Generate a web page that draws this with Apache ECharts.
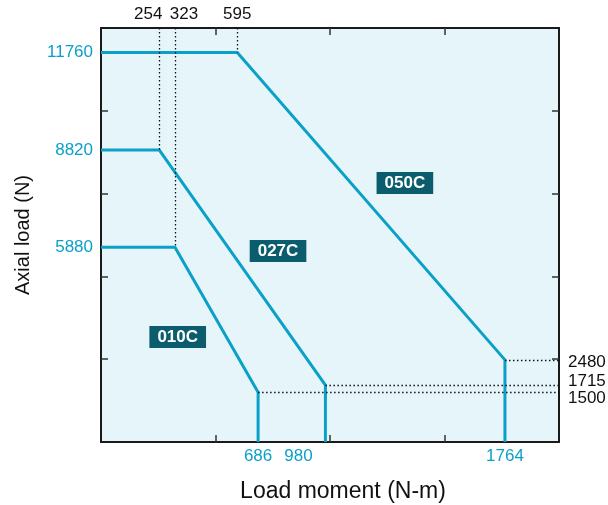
<!DOCTYPE html>
<html>
<head>
<meta charset="utf-8">
<script src="https://cdn.jsdelivr.net/npm/echarts@6/dist/echarts.min.js"></script>
<style>html,body{margin:0;padding:0;background:#fff}#c{width:608px;height:505px}</style>
</head>
<body>
<div id="c"></div>
<script>
// ---- data ----
const xMax = 2000, yMax = 12500;
const tickX = [500, 1000, 1500];
const tickY = [2500, 5000, 7500, 10000];
const bottomLabels = [686, 980, 1764];
const topLabels = [254, 323, 595];
const leftLabels = [5880, 8820, 11760];
const rightLabels = [1500, 1715, 2480];

const curve050 = [[0, 11760], [595, 11760], [1764, 2480], [1764, 0]];
const curve027 = [[0, 8820], [254, 8820], [980, 1715], [980, 0]];
const curve010 = [[0, 5880], [323, 5880], [686, 1500], [686, 0]];

const boxNames = ['050C', '027C', '010C'];
const boxPos = [[1327, 7820], [773, 5767], [335, 3170]];

// ---- style ----
const BLUE = '#0aa0c8';
const DARK = '#0b5d6e';
const FONT = '"Liberation Sans", Arial, Helvetica, sans-serif';
const FS = 17;
const axisLine = { show: true, onZero: false, lineStyle: { color: '#1a1a1a', width: 2 } };
const tickStyle = { lineStyle: { color: '#333', width: 1.5 } };

const chart = echarts.init(document.getElementById('c'));

function dotted(a, b) { return [{ coord: a }, { coord: b }]; }
function txt(color, extra) { return Object.assign({ color: color, fontSize: FS, fontFamily: FONT }, extra || {}); }

const option = {
  animation: false,
  textStyle: { fontFamily: FONT },
  grid: { left: 101, right: 49, top: 28, bottom: 63, containLabel: false, outerBoundsMode: 'none', show: true, backgroundColor: '#e5f5f9', borderWidth: 0 },
  xAxis: [
    {
      type: 'value', position: 'bottom', min: 0, max: xMax,
      name: 'Load moment (N-m)', nameLocation: 'middle', nameGap: 38,
      nameTextStyle: { fontSize: 23, color: '#111', fontFamily: FONT, padding: [0, 0, 0, 26] },
      axisLine: axisLine, splitLine: { show: false },
      axisTick: Object.assign({ show: true, inside: true, length: 7, customValues: tickX }, tickStyle),
      axisLabel: {
        show: true, customValues: bottomLabels, margin: 6, color: BLUE, fontSize: FS, fontFamily: FONT,
        formatter: v => v === 980 ? '{s|' + v + '}' : '{n|' + v + '}',
        rich: { n: txt(BLUE), s: txt(BLUE, { padding: [0, 54, 0, 0] }) }
      }
    },
    {
      type: 'value', position: 'top', min: 0, max: xMax,
      axisLine: axisLine, splitLine: { show: false },
      axisTick: Object.assign({ show: true, inside: true, length: 7, customValues: tickX }, tickStyle),
      axisLabel: {
        show: true, customValues: topLabels, margin: 5, color: '#111', fontSize: FS, fontFamily: FONT,
        formatter: v => v === 254 ? '{l|' + v + '}' : (v === 323 ? '{r|' + v + '}' : '{n|' + v + '}'),
        rich: { n: txt('#111'), l: txt('#111', { padding: [0, 22, 0, 0] }), r: txt('#111', { padding: [0, 0, 0, 18] }) }
      }
    }
  ],
  yAxis: [
    {
      type: 'value', position: 'left', min: 0, max: yMax,
      name: 'Axial load (N)', nameLocation: 'middle', nameGap: 68, nameRotate: 90,
      nameTextStyle: { fontSize: 20, color: '#111', fontFamily: FONT },
      axisLine: axisLine, splitLine: { show: false },
      axisTick: Object.assign({ show: true, inside: true, length: 7, customValues: tickY }, tickStyle),
      axisLabel: { show: true, customValues: leftLabels, margin: 8, color: BLUE, fontSize: FS, fontFamily: FONT, formatter: v => String(v) }
    },
    {
      type: 'value', position: 'right', min: 0, max: yMax,
      axisLine: axisLine, splitLine: { show: false },
      axisTick: Object.assign({ show: true, inside: true, length: 7, customValues: tickY }, tickStyle),
      axisLabel: {
        show: true, customValues: rightLabels, margin: 9, color: '#111', fontSize: FS, fontFamily: FONT,
        formatter: v => v === 1715 ? '{u|' + v + '}' : (v === 1500 ? '{d|' + v + '}' : '{n|' + v + '}'),
        rich: { n: txt('#111', { padding: [4, 0, 0, 0] }), u: txt('#111', { padding: [0, 0, 8, 0] }), d: txt('#111', { padding: [12, 0, 0, 0] }) }
      }
    }
  ],
  series: [
    {
      type: 'line', name: 'guides', data: [], silent: true,
      markLine: {
        silent: true, symbol: ['none', 'none'], label: { show: false },
        lineStyle: { color: '#111', width: 1.3, type: [1.5, 2.5] },
        data: [
          dotted([topLabels[0], yMax], [topLabels[0], curve027[1][1]]),
          dotted([topLabels[1], yMax], [topLabels[1], curve010[1][1]]),
          dotted([topLabels[2], yMax], [topLabels[2], curve050[1][1]]),
          dotted([curve050[2][0], rightLabels[2]], [xMax, rightLabels[2]]),
          dotted([curve027[2][0], rightLabels[1]], [xMax, rightLabels[1]]),
          dotted([curve010[2][0], rightLabels[0]], [xMax, rightLabels[0]])
        ]
      }
    },
    { type: 'line', name: '050C', data: curve050, symbol: 'none', lineStyle: { color: BLUE, width: 3 }, z: 3 },
    { type: 'line', name: '027C', data: curve027, symbol: 'none', lineStyle: { color: BLUE, width: 3 }, z: 3 },
    { type: 'line', name: '010C', data: curve010, symbol: 'none', lineStyle: { color: BLUE, width: 3 }, z: 3 },
    {
      type: 'scatter', symbolSize: 0, itemStyle: { color: 'rgba(0,0,0,0)', opacity: 1 }, z: 5, silent: true,
      data: boxPos.map((p, i) => ({ value: p, name: boxNames[i] })),
      label: {
        show: true, position: 'inside', formatter: p => p.name,
        color: '#fff', fontWeight: 'bold', fontSize: 17, fontFamily: FONT,
        backgroundColor: DARK, padding: [3, 8, 2, 8]
      }
    }
  ]
};
chart.setOption(option);
</script>
</body>
</html>
